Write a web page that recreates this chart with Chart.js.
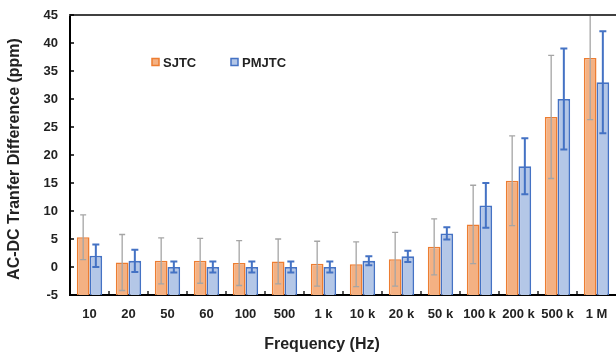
<!DOCTYPE html>
<html>
<head>
<meta charset="utf-8">
<script src="https://cdn.jsdelivr.net/npm/chart.js@4/dist/chart.umd.min.js"></script>
<style>
html,body{margin:0;padding:0;background:#fff;}
#wrap{width:616px;height:356px;position:relative;}
</style>
</head>
<body>
<div id="wrap"><canvas id="c"></canvas></div>
<script>
const categories = ['10','20','50','60','100','500','1 k','10 k','20 k','50 k','100 k','200 k','500 k','1 M'];
const sjtc      = [5.3, 0.8, 1.1, 1.1, 0.7, 1.0, 0.6, 0.5, 1.4, 3.6, 7.6, 15.4, 26.8, 37.3];
const sjtcErr   = [4.0, 5.0, 4.1, 4.0, 4.0, 4.0, 4.0, 4.0, 4.8, 5.0, 7.0, 8.0, 11.0, 11.0];
const pmjtc     = [2.0, 1.1, 0.0, 0.0, 0.0, 0.0, 0.0, 1.1, 1.9, 6.0, 11.0, 18.0, 30.0, 33.0];
const pmjtcErr  = [2.0, 2.0, 1.0, 1.0, 1.0, 1.0, 1.0, 0.8, 1.0, 1.1, 4.0, 5.0, 9.0, 9.1];
const yTicks    = [-5, 0, 5, 10, 15, 20, 25, 30, 35, 40, 45];
const seriesNames = ['SJTC', 'PMJTC'];
const xTitle = 'Frequency (Hz)';
const yTitle = 'AC-DC Tranfer Difference (ppm)';

const FONT = '"Liberation Sans", Arial, sans-serif';

const extras = {
  id: 'extras',
  afterDatasetsDraw(chart) {
    const ctx = chart.ctx, ca = chart.chartArea;
    const ys = chart.scales.y;
    const errs = [sjtcErr, pmjtcErr];
    const vals = [sjtc, pmjtc];
    const styles = [
      {color: '#a5a5a5', width: 1.3, cap: 3},
      {color: '#4472c4', width: 2, cap: 3.5}
    ];
    ctx.save();
    ctx.beginPath();
    ctx.rect(ca.left, ca.top, ca.right - ca.left, ca.bottom - ca.top);
    ctx.clip();
    for (let d = 0; d < 2; d++) {
      const meta = chart.getDatasetMeta(d);
      const st = styles[d];
      ctx.strokeStyle = st.color;
      ctx.lineWidth = st.width;
      meta.data.forEach((el, j) => {
        const x = el.x;
        const yt = ys.getPixelForValue(vals[d][j] + errs[d][j]);
        const yb = ys.getPixelForValue(vals[d][j] - errs[d][j]);
        ctx.beginPath();
        ctx.moveTo(x, yt); ctx.lineTo(x, yb);
        ctx.moveTo(x - st.cap, yt); ctx.lineTo(x + st.cap, yt);
        ctx.moveTo(x - st.cap, yb); ctx.lineTo(x + st.cap, yb);
        ctx.stroke();
      });
    }
    ctx.restore();
  },
  afterDraw(chart) {
    const ctx = chart.ctx, ca = chart.chartArea;
    const ys = chart.scales.y, xs = chart.scales.x;
    ctx.save();
    ctx.strokeStyle = '#404040';
    ctx.lineWidth = 2;
    ctx.beginPath();
    ctx.moveTo(ca.left - 1, ca.top); ctx.lineTo(ca.right, ca.top);
    ctx.stroke();
    ctx.strokeStyle = '#000';
    ctx.lineWidth = 1.3;
    ctx.beginPath();
    yTicks.forEach(v => {
      const y = ys.getPixelForValue(v);
      ctx.moveTo(ca.left, y); ctx.lineTo(ca.left + 4, y);
    });
    for (let i = 1; i < categories.length; i++) {
      const x = (xs.getPixelForValue(i - 1) + xs.getPixelForValue(i)) / 2;
      ctx.moveTo(x, ca.bottom); ctx.lineTo(x, ca.bottom - 4);
    }
    ctx.stroke();
    const items = [
      {x: 152, ds: chart.data.datasets[0]},
      {x: 231, ds: chart.data.datasets[1]}
    ];
    ctx.font = 'bold 13px ' + FONT;
    ctx.textBaseline = 'middle';
    ctx.textAlign = 'left';
    items.forEach(it => {
      ctx.fillStyle = it.ds.backgroundColor;
      ctx.fillRect(it.x, 58.5, 7, 7);
      ctx.strokeStyle = it.ds.borderColor;
      ctx.lineWidth = 1.5;
      ctx.strokeRect(it.x, 58.5, 7, 7);
      ctx.fillStyle = '#222';
      ctx.fillText(it.ds.label, it.x + 11, 63);
    });
    ctx.font = 'bold 16px ' + FONT;
    ctx.textAlign = 'center';
    ctx.fillStyle = '#222';
    ctx.fillText(xTitle, 322, 345);
    ctx.translate(15, 159);
    ctx.rotate(-Math.PI / 2);
    ctx.fillText(yTitle, 0, 0);
    ctx.restore();
  }
};

new Chart(document.getElementById('c'), {
  type: 'bar',
  data: {
    labels: categories,
    datasets: [
      {label: seriesNames[0], data: sjtc, base: -5, backgroundColor: '#f4b183', borderColor: '#ed7d31', borderWidth: 1.5,
       barPercentage: 1.0, categoryPercentage: 0.65},
      {label: seriesNames[1], data: pmjtc, base: -5, backgroundColor: '#b4c7e7', borderColor: '#4472c4', borderWidth: 1.8,
       barPercentage: 1.0, categoryPercentage: 0.65}
    ]
  },
  options: {
    responsive: true,
    maintainAspectRatio: false,
    animation: false,
    layout: {padding: {top: 15, right: 0, left: 0, bottom: 0}},
    plugins: {legend: {display: false}, tooltip: {enabled: false}},
    scales: {
      x: {
        grid: {display: false, drawTicks: false},
        border: {display: true, color: '#000', width: 2},
        ticks: {color: '#222', font: {family: FONT, size: 13, weight: 'bold'}, padding: 12, maxRotation: 0, autoSkip: false},
        afterFit(s) { s.height = 61; s.paddingLeft = 0; s.paddingRight = 0; }
      },
      y: {
        min: -5, max: 45,
        afterBuildTicks(s) { s.ticks = yTicks.map(v => ({value: v})); },
        grid: {display: false, drawTicks: false},
        border: {display: true, color: '#000', width: 2},
        ticks: {color: '#222', font: {family: FONT, size: 13, weight: 'bold'}, padding: 12},
        afterFit(s) { s.width = 70; s.paddingTop = 0; s.paddingBottom = 0; }
      }
    }
  },
  plugins: [extras]
});
</script>
</body>
</html>
